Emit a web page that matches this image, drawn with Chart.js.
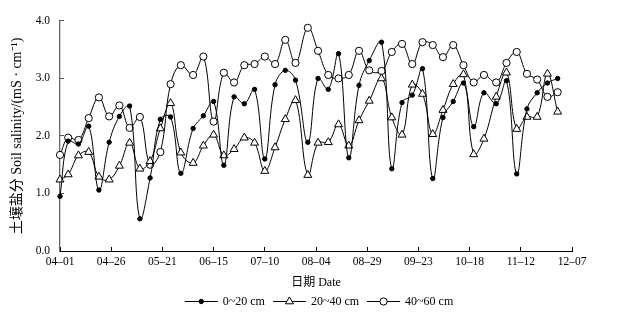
<!DOCTYPE html>
<html>
<head>
<meta charset="utf-8">
<script src="https://cdn.jsdelivr.net/npm/chart.js@4/dist/chart.umd.min.js"></script>
<style>
  html, body { margin: 0; padding: 0; background: #fff; }
  #wrap { width: 617px; height: 315px; position: relative; }
</style>
</head>
<body>
<div id="wrap"><canvas id="c"></canvas></div>
<script>
// ---- data ----
const sampleDates = [
  '04-01','04-05','04-10','04-15','04-20','04-25','04-30',
  '05-05','05-10','05-15','05-20','05-25','05-30',
  '06-05','06-10','06-15','06-20','06-25','06-30',
  '07-05','07-10','07-15','07-20','07-25','07-31',
  '08-05','08-10','08-15','08-20','08-25','08-30',
  '09-05','09-10','09-15','09-20','09-25','09-30',
  '10-05','10-10','10-15','10-20','10-25','10-31',
  '11-05','11-10','11-15','11-20','11-25','11-30'
];
const salinity0to20 = [
  0.95, 1.91, 1.86, 2.17, 1.06, 1.89, 2.34,
  2.52, 0.56, 1.27, 2.29, 2.33, 1.35,
  2.13, 2.35, 2.60, 1.49, 2.68, 2.56,
  2.81, 1.60, 2.89, 3.14, 2.97, 1.89,
  3.00, 2.81, 3.43, 1.62, 2.88, 3.31,
  3.63, 1.43, 2.58, 2.71, 3.17, 1.26,
  2.32, 2.60, 2.92, 2.16, 2.75, 2.56,
  2.96, 1.34, 2.47, 2.75, 2.92, 3.00
];
const salinity20to40 = [
  1.24, 1.33, 1.66, 1.72, 1.29, 1.24, 1.48,
  1.88, 1.43, 1.56, 2.13, 2.57, 1.71,
  1.53, 1.83, 2.02, 1.66, 1.77, 1.97,
  1.88, 1.39, 1.80, 2.29, 2.62, 1.32,
  1.88, 1.89, 2.20, 1.83, 2.27, 2.61,
  3.00, 2.32, 2.02, 2.89, 2.73, 2.03,
  2.45, 2.90, 3.07, 1.68, 1.95, 2.68,
  3.10, 2.12, 2.33, 2.33, 3.08, 2.42
];
const salinity40to60 = [
  1.67, 1.97, 1.93, 2.31, 2.67, 2.34, 2.53,
  2.14, 2.33, 1.50, 1.72, 2.90, 3.23,
  3.06, 3.38, 2.25, 3.10, 2.93, 3.23,
  3.25, 3.38, 3.25, 3.67, 3.27, 3.88,
  3.48, 3.06, 3.00, 3.06, 3.48, 3.14,
  3.13, 3.46, 3.60, 3.25, 3.63, 3.58,
  3.37, 3.58, 3.23, 2.93, 3.06, 2.93,
  3.27, 3.46, 3.08, 2.98, 2.68, 2.76
];
const seriesNames = ['0~20 cm', '20~40 cm', '40~60 cm'];
const xTickLabels = ['04–01','04–26','05–21','06–15','07–10','08–04','08–29','09–23','10–18','11–12','12–07'];
const yTickValues = [0, 1, 2, 3, 4];
const xTitle = '日期 Date';
const yTitle = '土壤盐分 Soil salinity/(mS · cm⁻¹)';

// ---- helpers ----
const startDate = '04-01';
function dayOffset(md) {
  const [m, d] = md.split('-').map(Number);
  const [m0, d0] = startDate.split('-').map(Number);
  return Math.round((Date.UTC(2020, m - 1, d) - Date.UTC(2020, m0 - 1, d0)) / 86400000);
}
function toPoints(values) {
  return values.map((v, i) => ({ x: dayOffset(sampleDates[i]), y: v }));
}

const FONT = "'Liberation Serif', 'Times New Roman', 'Noto Sans CJK SC', serif";

const styles = [
  { pointStyle: 'circle', radius: 2.2, bg: '#000' },
  { pointStyle: 'triangle', radius: 4.6, bg: '#fff' },
  { pointStyle: 'circle', radius: 3.6, bg: '#fff' }
];
const seriesValues = [salinity0to20, salinity20to40, salinity40to60];

const datasets = seriesValues.map((vals, i) => ({
  label: seriesNames[i],
  data: toPoints(vals),
  borderColor: '#000',
  borderWidth: 1,
  backgroundColor: styles[i].bg,
  pointBackgroundColor: styles[i].bg,
  pointBorderColor: '#000',
  pointBorderWidth: 1,
  pointStyle: styles[i].pointStyle,
  pointRadius: styles[i].radius,
  tension: 0.4,
  fill: false,
  clip: false
}));

// custom legend: short line with marker in the middle, then the label
const lineLegend = {
  id: 'lineLegend',
  afterDraw(chart) {
    const ctx = chart.ctx;
    ctx.save();
    ctx.font = '12px ' + FONT;
    ctx.textBaseline = 'middle';
    const lineLen = 33, gapText = 5, gapItem = 8;
    const widths = seriesNames.map(n => ctx.measureText(n).width);
    let total = 0;
    widths.forEach((w, i) => { total += lineLen + gapText + w + (i < widths.length - 1 ? gapItem : 0); });
    let x = 319 - total / 2;
    const y = 301.5;
    chart.data.datasets.forEach((ds, i) => {
      const cx = x + lineLen / 2;
      ctx.strokeStyle = '#000';
      ctx.lineWidth = 1;
      ctx.beginPath();
      ctx.moveTo(x, y);
      ctx.lineTo(x + lineLen, y);
      ctx.stroke();
      ctx.fillStyle = ds.pointBackgroundColor;
      ctx.beginPath();
      if (ds.pointStyle === 'triangle') {
        const r = ds.pointRadius;
        ctx.moveTo(cx, y - r);
        ctx.lineTo(cx + Math.sin(2 * Math.PI / 3) * r, y - Math.cos(2 * Math.PI / 3) * r);
        ctx.lineTo(cx + Math.sin(4 * Math.PI / 3) * r, y - Math.cos(4 * Math.PI / 3) * r);
        ctx.closePath();
      } else {
        ctx.arc(cx, y, ds.pointRadius, 0, Math.PI * 2);
      }
      ctx.fill();
      ctx.stroke();
      ctx.fillStyle = '#000';
      ctx.textAlign = 'left';
      ctx.fillText(ds.label, x + lineLen + gapText, y);
      x += lineLen + gapText + widths[i] + gapItem;
    });
    ctx.restore();
  }
};

new Chart(document.getElementById('c'), {
  type: 'line',
  data: { datasets },
  options: {
    responsive: true,
    maintainAspectRatio: false,
    animation: false,
    layout: { padding: { top: 11, right: 45, bottom: 24, left: 0 } },
    plugins: {
      legend: { display: false },
      tooltip: { enabled: false }
    },
    scales: {
      x: {
        type: 'linear',
        min: 0,
        max: 250,
        afterBuildTicks(scale) {
          scale.ticks = xTickLabels.map((_, i) => ({ value: i * 25 }));
        },
        afterFit(scale) { scale.height = 40; },
        grid: { display: true, drawOnChartArea: false, drawTicks: true, tickLength: -4, tickColor: '#000' },
        border: { display: true, color: '#000', width: 1 },
        ticks: {
          color: '#000',
          font: { family: FONT, size: 11.5 },
          padding: 8,
          maxRotation: 0,
          autoSkip: false,
          callback(value, index) { return xTickLabels[index]; }
        },
        title: {
          display: true,
          text: xTitle,
          color: '#000',
          font: { family: FONT, size: 12 },
          padding: { top: 0, bottom: 1 }
        }
      },
      y: {
        min: 0,
        max: 4,
        afterBuildTicks(scale) {
          scale.ticks = yTickValues.map(v => ({ value: v }));
        },
        afterFit(scale) { scale.width = 60; },
        grid: { display: true, drawOnChartArea: false, drawTicks: true, tickLength: -4, tickColor: '#555' },
        border: { display: true, color: '#666', width: 1.3 },
        ticks: {
          color: '#000',
          font: { family: FONT, size: 11.5 },
          padding: 14,
          callback(value) { return Number(value).toFixed(1); }
        },
        title: {
          display: true,
          text: yTitle,
          color: '#000',
          font: { family: FONT, size: 14 },
          padding: { top: 9, bottom: 0 }
        }
      }
    }
  },
  plugins: [lineLegend]
});
</script>
</body>
</html>
